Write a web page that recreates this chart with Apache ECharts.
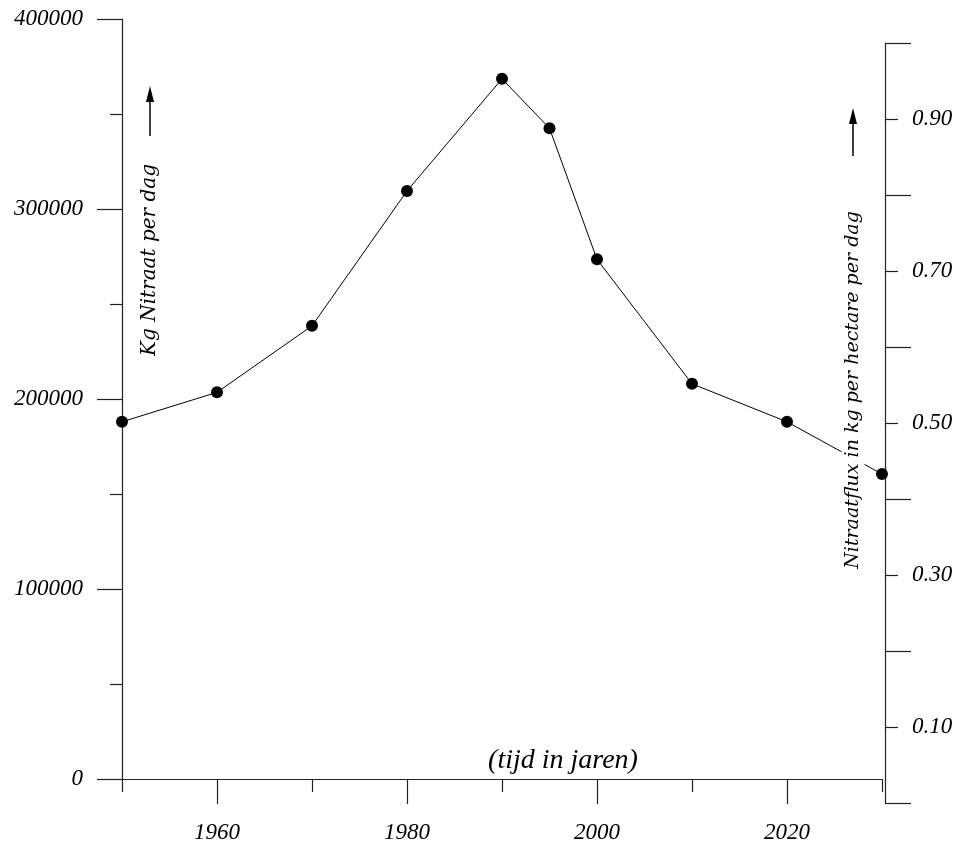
<!DOCTYPE html>
<html>
<head>
<meta charset="utf-8">
<script src="https://cdn.jsdelivr.net/npm/echarts@6/dist/echarts.min.js"></script>
<style>
  html, body { margin: 0; padding: 0; background: #fff; }
  #main { width: 958px; height: 848px; }
</style>
</head>
<body>
<div id="main"></div>
<script>
var myChart = echarts.init(document.getElementById('main'));

var years = [1950, 1960, 1970, 1980, 1990, 1995, 2000, 2010, 2020, 2030];
var nitraat = [188000, 203500, 238500, 309500, 368500, 342500, 273500, 208000, 188000, 160500];
var yearLabels = [1960, 1980, 2000, 2020];
var leftTicks = [0, 100000, 200000, 300000, 400000];
var rightLabels = [0.1, 0.3, 0.5, 0.7, 0.9];

var points = [];
for (var i = 0; i < years.length; i++) {
	points.push([years[i], nitraat[i]]);
}

var serif = '"Liberation Serif", "Times New Roman", serif';
var slab = '"DejaVu Serif", serif';
var axisColor = '#222';

function arrow(x, y1, y2) {
	return [{
		type: 'line',
		shape: { x1: x, y1: y1, x2: x, y2: y2 },
		style: { stroke: '#000', lineWidth: 1.5 },
		z: 100
	}, {
		type: 'polygon',
		shape: { points: [[x, y2 - 9], [x - 4, y2 + 7], [x + 4, y2 + 7]] },
		style: { fill: '#000' },
		z: 100
	}];
}

option = {
	backgroundColor: '#fff',
	animation: false,
	grid: [{
		left: 122, top: 19, width: 760, height: 760
	}, {
		left: 800, top: 43, width: 85, height: 760
	}],
	xAxis: [{
		// short ticks on the odd decades, long minor ticks on 1960, 1980 ...
		type: 'value', gridIndex: 0, min: 1950, max: 2030, interval: 20,
		axisLine: { show: true, lineStyle: { color: axisColor, width: 1.2 } },
		axisTick: { show: true, length: 13, lineStyle: { color: axisColor, width: 1.2 } },
		minorTick: { show: true, splitNumber: 2, length: 25, lineStyle: { color: axisColor, width: 1.2 } },
		axisLabel: {
			show: true, customValues: yearLabels, margin: 42,
			fontFamily: serif, fontStyle: 'italic', fontSize: 23, color: '#000',
			formatter: function (v) { return String(v); }
		},
		splitLine: { show: false }
	}, {
		type: 'value', gridIndex: 1, show: false, min: 0, max: 1
	}],
	yAxis: [{
		type: 'value', gridIndex: 0, min: 0, max: 400000, interval: 100000,
		axisLine: { show: true, onZero: false, lineStyle: { color: axisColor, width: 1.2 } },
		axisTick: { show: true, length: 25, lineStyle: { color: axisColor, width: 1.2 } },
		minorTick: { show: true, splitNumber: 2, length: 12, lineStyle: { color: axisColor, width: 1.2 } },
		axisLabel: {
			margin: 39, fontFamily: serif, fontStyle: 'italic', fontSize: 23, color: '#000',
			customValues: leftTicks,
			formatter: function (v) { return String(v); }
		},
		splitLine: { show: false }
	}, {
		// right axis: long ticks at even tenths, short minor ticks + labels at odd tenths
		type: 'value', gridIndex: 1, position: 'right', min: 0, max: 1, interval: 0.2,
		axisLine: { show: true, onZero: false, lineStyle: { color: axisColor, width: 1.2 } },
		axisTick: { show: true, length: 26, lineStyle: { color: axisColor, width: 1.2 } },
		minorTick: { show: true, splitNumber: 2, length: 13, lineStyle: { color: axisColor, width: 1.2 } },
		axisLabel: {
			margin: 27, fontFamily: serif, fontStyle: 'italic', fontSize: 23, color: '#000',
			customValues: rightLabels,
			formatter: function (v) { return v.toFixed(2); }
		},
		splitLine: { show: false }
	}],
	series: [{
		type: 'line',
		xAxisIndex: 0,
		yAxisIndex: 0,
		data: points,
		symbol: 'circle',
		symbolSize: 12,
		lineStyle: { color: '#000', width: 1 },
		itemStyle: { color: '#000' },
		z: 5
	}],
	graphic: [].concat(
		arrow(150, 136, 95),
		arrow(853, 156, 117),
		[{
			type: 'text',
			x: 150, y: 260,
			rotation: Math.PI / 2,
			z: 100,
			style: {
				text: 'Kg Nitraat per dag',
				font: 'italic 20px ' + slab,
				fill: '#000',
				align: 'center',
				verticalAlign: 'middle'
			}
		}, {
			type: 'text',
			x: 853, y: 390,
			rotation: Math.PI / 2,
			z: 100,
			style: {
				text: 'Nitraatflux in kg per hectare per dag',
				font: 'italic 19px ' + slab,
				fill: '#000',
				align: 'center',
				verticalAlign: 'middle',
				backgroundColor: '#fff',
				padding: [2, 4]
			}
		}, {
			type: 'text',
			x: 563, y: 761,
			z: 100,
			style: {
				text: '(tijd in jaren)',
				font: 'italic 28px ' + serif,
				fill: '#000',
				align: 'center',
				verticalAlign: 'middle'
			}
		}]
	)
};

myChart.setOption(option);
window.onresize = myChart.resize;
</script>
</body>
</html>
